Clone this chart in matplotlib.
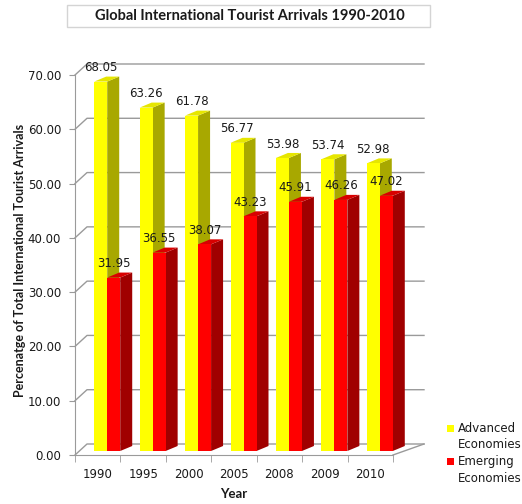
import numpy as np
import matplotlib
matplotlib.use("Agg")
import matplotlib.pyplot as plt
from matplotlib.patches import Polygon, Rectangle

years = ["1990", "1995", "2000", "2005", "2008", "2009", "2010"]
advanced = [68.05, 63.26, 61.78, 56.77, 53.98, 53.74, 52.98]
emerging = [31.95, 36.55, 38.07, 43.23, 45.91, 46.26, 47.02]
y_ticks = [0, 10, 20, 30, 40, 50, 60, 70]
series_names = ["Advanced\nEconomies", "Emerging\nEconomies"]

W, H = 522, 504
fig = plt.figure(figsize=(W / 100, H / 100), dpi=100)
fig.patch.set_facecolor("white")

# front plane of the 3d box, in pixels
ax_l, ax_r, ax_b, ax_t = 75, 393, 455, 75
ax = fig.add_axes([ax_l / W, 1 - ax_b / H, (ax_r - ax_l) / W, (ax_b - ax_t) / H])
ax.set_xlim(-0.5, len(years) - 0.5)
ax.set_ylim(0, 70)
ax.patch.set_alpha(0)

px_x = (ax_r - ax_l) / len(years)   # pixels per category
px_y = (ax_b - ax_t) / 70.0         # pixels per unit

grid_c = "#9a9a9a"
x = np.arange(len(years))

# back wall + floor (perspective: left shifts 12px, right 31px, up 11px)
left_dx, right_dx, back_dy = 12 / px_x, 31 / px_x, 11 / px_y
x0, x1 = -0.5, len(years) - 0.5
for v in y_ticks:
    ax.plot([x0, x0 + left_dx, x1 + right_dx], [v, v + back_dy, v + back_dy],
            color=grid_c, lw=1, clip_on=False, zorder=1)
ax.plot([x1, x1 + right_dx], [0, back_dy], color=grid_c, lw=1, clip_on=False, zorder=1)

# bars
bar_w = 13 / px_x
off_adv = -3.5 / px_x
off_emg = off_adv + bar_w
d_dx, d_dy = 12 / px_x, 5 / px_y
base = 4 / px_y

faces = {
    "adv": ("#ffff00", "#e6e600", "#a8a800"),
    "emg": ("#ff0000", "#d80000", "#a00000"),
}


def draw_bar(xl, val, cols):
    front, top, side = cols
    xr = xl + bar_w
    yt = base + val
    ax.add_patch(Polygon([(xr, base), (xr + d_dx, base + d_dy), (xr + d_dx, yt + d_dy), (xr, yt)],
                         closed=True, facecolor=side, edgecolor="none", clip_on=False, zorder=3))
    ax.add_patch(Polygon([(xl, yt), (xr, yt), (xr + d_dx, yt + d_dy), (xl + d_dx, yt + d_dy)],
                         closed=True, facecolor=top, edgecolor="none", clip_on=False, zorder=3))


for i in range(len(years)):
    draw_bar(x[i] + off_adv, advanced[i], faces["adv"])
    ax.bar(x[i] + off_adv, advanced[i], width=bar_w, bottom=base, align="edge",
           color=faces["adv"][0], zorder=3)
    draw_bar(x[i] + off_emg, emerging[i], faces["emg"])
    ax.bar(x[i] + off_emg, emerging[i], width=bar_w, bottom=base, align="edge",
           color=faces["emg"][0], zorder=3)

num_font = dict(family="DejaVu Sans", size=8.5, color="#1a1a1a")
for i in range(len(years)):
    ax.annotate(f"{advanced[i]:.2f}", (x[i] + off_adv + bar_w / 2, base + advanced[i]),
                xytext=(0, 10), textcoords="offset points", ha="center", va="center",
                zorder=10, annotation_clip=False, **num_font)
    ax.annotate(f"{emerging[i]:.2f}", (x[i] + off_emg + bar_w / 2, base + emerging[i]),
                xytext=(0, 10), textcoords="offset points", ha="center", va="center",
                zorder=10, annotation_clip=False, **num_font)

# axes
for s in ["top", "right"]:
    ax.spines[s].set_visible(False)
for s in ["left", "bottom"]:
    ax.spines[s].set_color(grid_c)
ax.set_yticks(y_ticks)
ax.set_yticklabels([f"{v:.2f}" for v in y_ticks], **num_font)
ax.set_xticks(x)
ax.set_xticklabels(years, **num_font)
ax.set_xticks(np.arange(len(years) + 1) - 0.5, minor=True)
ax.tick_params(axis="x", which="major", length=0, pad=9)
ax.tick_params(axis="x", which="minor", length=5, color=grid_c)
ax.tick_params(axis="y", length=4, color=grid_c, pad=6)

lab_font = dict(family="Lato", weight="bold", size=9.5, color="#1a1a1a")
ax.set_xlabel("Year", **lab_font)
ax.xaxis.set_label_coords(0.5, -(494 - ax_b) / (ax_b - ax_t), transform=ax.transAxes)
ax.xaxis.label.set_va("center")
ax.set_ylabel("Percenatge of Total International Tourist Arrivals", family="Lato",
              weight="bold", size=9, color="#1a1a1a")
ax.yaxis.set_label_coords(-(ax_l - 20) / (ax_r - ax_l), (ax_b - 260) / (ax_b - ax_t))
ax.yaxis.label.set_va("center")

# title box
fig.add_artist(Rectangle((67 / W, 1 - 27 / H), 363 / W, 22 / H, transform=fig.transFigure,
                         facecolor="white", edgecolor="#d4d4d4", lw=1))
fig.text(250 / W, 1 - 16 / H, "Global International Tourist Arrivals 1990-2010",
         ha="center", va="center", family="Lato", weight="bold", size=10.5, color="#1a1a1a")

# legend
for name, col, ty in zip(series_names, ["#ffff00", "#ff0000"], [428, 461]):
    fig.add_artist(Rectangle((447 / W, 1 - (ty + 3.5) / H), 7 / W, 7 / H,
                             transform=fig.transFigure, facecolor=col, edgecolor="none"))
    first, second = name.split("\n")
    fig.text(458 / W, 1 - ty / H, first, ha="left", va="center", **num_font)
    fig.text(458 / W, 1 - (ty + 17) / H, second, ha="left", va="center", **num_font)

fig.savefig("out.png", dpi=100)
